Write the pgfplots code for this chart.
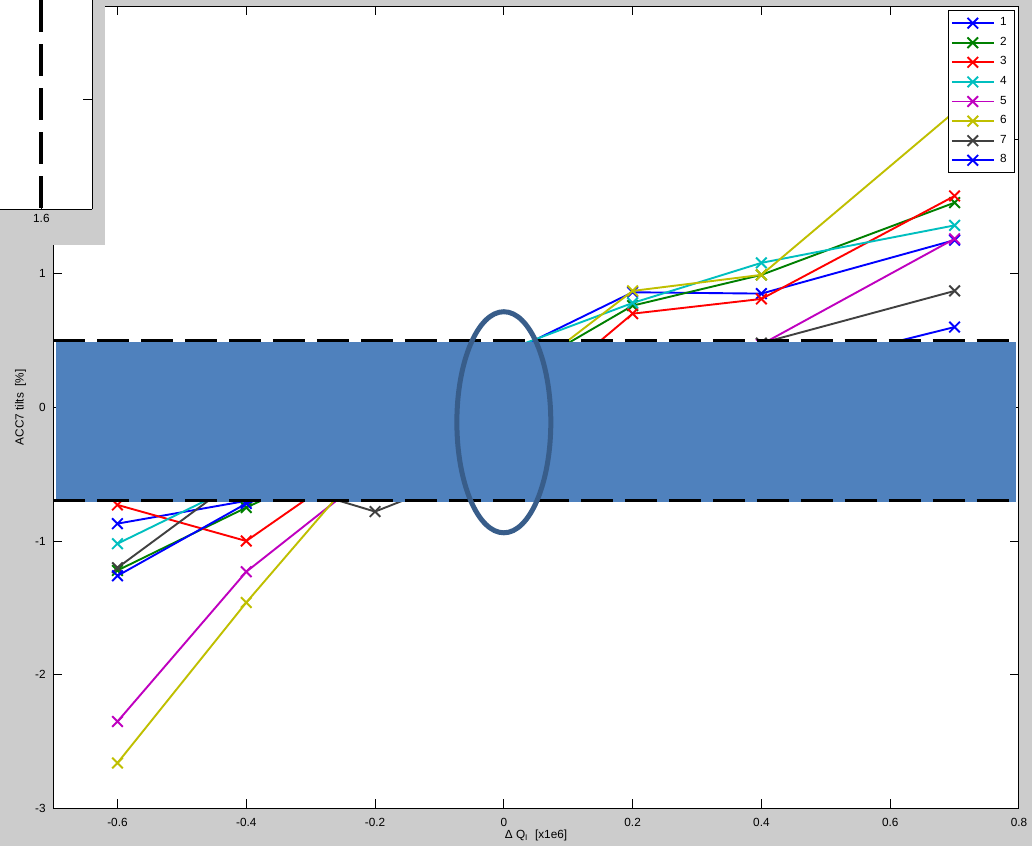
\documentclass[border=0pt]{standalone}
\usepackage{pgfplots}
\usepackage{pgfplotstable}
\pgfplotsset{compat=1.18}
\usepackage{fontspec}
\setmainfont{Liberation Sans}
\definecolor{figgray}{RGB}{204,204,204}
\definecolor{bandblue}{RGB}{79,129,189}
\definecolor{ellblue}{RGB}{56,93,138}
\definecolor{mgreen}{rgb}{0,0.5,0}
\definecolor{mcyan}{rgb}{0,0.75,0.75}
\definecolor{mmag}{rgb}{0.75,0,0.75}
\definecolor{myel}{rgb}{0.75,0.75,0}
\definecolor{mgray}{rgb}{0.25,0.25,0.25}
\newcommand\mf{\fontsize{5.9bp}{7bp}\selectfont}
\pgfplotstableread{
x s1 s2 s3 s4 s5 s6 s7 s8
-0.6 -0.87 -1.22 -0.73 -1.02 -2.35 -2.66 -1.20 -1.26
-0.4 -0.70 -0.75 -1.00 -0.55 -1.23 -1.46 -0.49 -0.72
-0.2 -0.30 -0.30 -0.33 -0.20 -0.47 -0.34 -0.78 -0.40
0.0 0.39 0.20 -0.11 0.42 -0.20 0.13 -0.40 -0.20
0.2 0.86 0.76 0.70 0.78 0.10 0.87 0.10 0.10
0.4 0.85 0.99 0.81 1.08 0.47 0.99 0.48 0.24
0.7 1.25 1.53 1.58 1.36 1.26 2.21 0.87 0.60
}\data
\begin{document}
\begin{tikzpicture}
\fill[figgray] (0,0) rectangle (516bp,423bp);
\begin{axis}[at={(26.3bp,18.8bp)}, anchor=south west, scale only axis,
  width=483.2bp, height=401.4bp,
  xmin=-0.7, xmax=0.8, ymin=-3, ymax=3,
  clip mode=individual,
  xtick={-0.6,-0.4,-0.2,0,0.2,0.4,0.6,0.8},
  ytick={-3,-2,-1,0,1,2,3},
  tick align=inside, major tick length=4.5bp,
  axis background/.style={fill=white},
  axis line style={line width=0.5bp},
  every tick/.style={black, line width=0.5bp},
  tick label style={font=\mf},
  /pgf/number format/assume math mode=true,
  xticklabel style={inner sep=0pt, anchor=north, yshift=-4.5bp},
  yticklabel style={inner sep=0pt, anchor=east, xshift=-3.5bp},
  xlabel={Δ Q\textsubscript{I}\ \ [x1e6]},
  ylabel={ACC7 tilts\ \ [\%]},
  every axis x label/.style={at={(axis description cs:0.5,0)}, yshift=-13.3bp, anchor=center, font=\mf},
  every axis y label/.style={at={(axis description cs:0,0.5)}, xshift=-16.3bp, rotate=90, anchor=center, font=\mf},
  legend style={at={(1,1)}, anchor=north east, xshift=-2bp, yshift=-2.2bp, font=\mf,
     draw=black, line width=0.5bp, inner sep=1.2bp, nodes={inner xsep=2.7bp, inner ysep=0.8bp, minimum height=9.8bp}},
  legend cell align=left,
  legend image code/.code={\draw[mark repeat=2,mark phase=2] plot coordinates {(0bp,0bp)(10.5bp,0bp)(21bp,0bp)};},
  every axis plot/.append style={line width=0.95bp, mark=x, mark size=3.75bp, mark options={solid}},
]
\addplot[blue] table[x=x,y=s1]{\data};
\addplot[mgreen] table[x=x,y=s2]{\data};
\addplot[red] table[x=x,y=s3]{\data};
\addplot[mcyan] table[x=x,y=s4]{\data};
\addplot[mmag] table[x=x,y=s5]{\data};
\addplot[myel] table[x=x,y=s6]{\data};
\addplot[mgray] table[x=x,y=s7]{\data};
\addplot[blue] table[x=x,y=s8]{\data};
\legend{1,2,3,4,5,6,7,8}
\addplot[forget plot, draw=none, fill=bandblue, mark=none] coordinates {(-0.696,-0.71) (0.796,-0.71) (0.796,0.49) (-0.696,0.49)} -- cycle;
\addplot[forget plot, black, line width=1.5bp, mark=none, dash pattern=on 16bp off 6bp] coordinates {(-0.7,0.5) (0.8,0.5)};
\addplot[forget plot, black, line width=1.5bp, mark=none, dash pattern=on 16bp off 6bp] coordinates {(-0.7,-0.7) (0.8,-0.7)};
\draw[ellblue, line width=2.5bp] (axis cs:0,-0.112) ellipse [x radius=23.5bp, y radius=55.3bp];
\end{axis}
\fill[figgray] (0,300.5bp) rectangle (52.5bp,423bp);
\begin{axis}[at={(0bp,318.5bp)}, anchor=south west, scale only axis,
  width=46bp, height=104.5bp,
  xmin=1.2, xmax=2.1, ymin=0, ymax=0.95,
  axis x line=bottom, axis y line=right,
  axis line style={-, line width=0.5bp},
  xtick={1.6}, xticklabels={1.6}, ytick={0.5}, yticklabels={},
  tick align=inside, major tick length=4.5bp,
  every tick/.style={black, line width=0.5bp},
  tick label style={font=\mf},
  xticklabel style={inner sep=0pt, anchor=north, yshift=-2.5bp},
  axis background/.style={fill=white},
]
\addplot[black, line width=2bp, mark=none, dash pattern=on 16bp off 6bp] coordinates {(1.6,0.95) (1.6,0)};
\end{axis}
\end{tikzpicture}
\end{document}
